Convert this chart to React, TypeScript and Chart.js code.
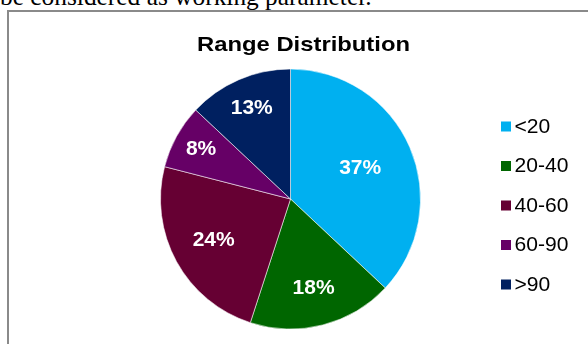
import React, { useEffect, useRef } from "react";
import { Chart, registerables } from "chart.js";

Chart.register(...registerables);

const PAGE_TEXT = "be considered as working parameter.";
const TITLE = "Range Distribution";
const CATEGORIES = ["<20", "20-40", "40-60", "60-90", ">90"];
const VALUES = [37, 18, 24, 8, 13];
const COLORS = ["#00B0F0", "#006600", "#660033", "#660066", "#002060"];

const FONT = '"Liberation Sans", Arial, Helvetica, sans-serif';

function stretchedText(ctx: CanvasRenderingContext2D, text: string, x: number, y: number, sx: number) {
  ctx.save();
  ctx.translate(x, y);
  ctx.scale(sx, 1);
  ctx.fillText(text, 0, 0);
  ctx.restore();
}

const overlayPlugin = {
  id: "overlay",
  afterDatasetsDraw(chart: any) {
    const ctx = chart.ctx;
    const meta = chart.getDatasetMeta(0);
    const data = chart.data.datasets[0].data as number[];
    const total = data.reduce((a, b) => a + b, 0);
    ctx.save();
    ctx.fillStyle = "#ffffff";
    ctx.font = `bold 21px ${FONT}`;
    ctx.textAlign = "center";
    ctx.textBaseline = "middle";
    meta.data.forEach((arc: any, i: number) => {
      const { x, y, startAngle, endAngle, outerRadius } = arc.getProps(
        ["x", "y", "startAngle", "endAngle", "outerRadius"],
        true
      );
      const span = endAngle - startAngle;
      const mid = (startAngle + endAngle) / 2;
      const d = outerRadius * (0.84 - 0.11 * span);
      const pct = Math.round((data[i] / total) * 100) + "%";
      ctx.fillText(pct, x + Math.cos(mid) * d, y + Math.sin(mid) * d - 1);
    });
    ctx.restore();
  },
  afterDraw(chart: any) {
    const ctx = chart.ctx;
    ctx.save();
    // title
    ctx.fillStyle = "#000000";
    ctx.font = `bold 21px ${FONT}`;
    ctx.textAlign = "center";
    ctx.textBaseline = "alphabetic";
    const tw = ctx.measureText(TITLE).width;
    stretchedText(ctx, TITLE, 303.5, 51, 213 / tw);
    // legend
    const labels = chart.data.labels as string[];
    const colors = chart.data.datasets[0].backgroundColor as string[];
    ctx.font = `19.5px ${FONT}`;
    ctx.textAlign = "left";
    ctx.textBaseline = "middle";
    labels.forEach((lab, i) => {
      const cy = 126.5 + i * 39.5;
      ctx.fillStyle = colors[i];
      ctx.fillRect(501, cy - 5, 10, 10);
      ctx.fillStyle = "#000000";
      stretchedText(ctx, lab, 514.5, cy + 1, 1.08);
    });
    ctx.restore();
  },
};

export default function App() {
  const canvasRef = useRef<HTMLCanvasElement | null>(null);

  useEffect(() => {
    if (!canvasRef.current) return;
    const chart = new Chart(canvasRef.current, {
      type: "pie",
      data: {
        labels: CATEGORIES,
        datasets: [
          {
            data: VALUES,
            backgroundColor: COLORS,
            borderColor: "rgba(255,255,255,0.55)",
            borderWidth: 1,
          },
        ],
      },
      options: {
        responsive: false,
        animation: false,
        events: [],
        layout: {
          padding: { left: 160, right: 167, top: 68.5, bottom: 14.5 },
        },
        plugins: {
          legend: { display: false },
          title: { display: false },
          tooltip: { enabled: false },
        },
      },
      plugins: [overlayPlugin],
    });
    return () => chart.destroy();
  }, []);

  return (
    <div
      style={{
        position: "fixed",
        left: 0,
        top: 0,
        width: 588,
        height: 344,
        overflow: "hidden",
        background: "#ffffff",
      }}
    >
      <div
        style={{
          position: "absolute",
          left: 0,
          top: -19,
          fontFamily: '"Liberation Serif", "Times New Roman", serif',
          fontSize: "25.4px",
          lineHeight: "30px",
          whiteSpace: "nowrap",
          color: "#000",
        }}
      >
        {PAGE_TEXT}
      </div>
      <div
        style={{
          position: "absolute",
          left: 7,
          top: 10,
          width: 700,
          height: 500,
          border: "2px solid #8a8a8a",
          boxSizing: "border-box",
        }}
      />
      <canvas
        ref={canvasRef}
        width={588}
        height={344}
        style={{ position: "absolute", left: 0, top: 0 }}
      />
    </div>
  );
}
